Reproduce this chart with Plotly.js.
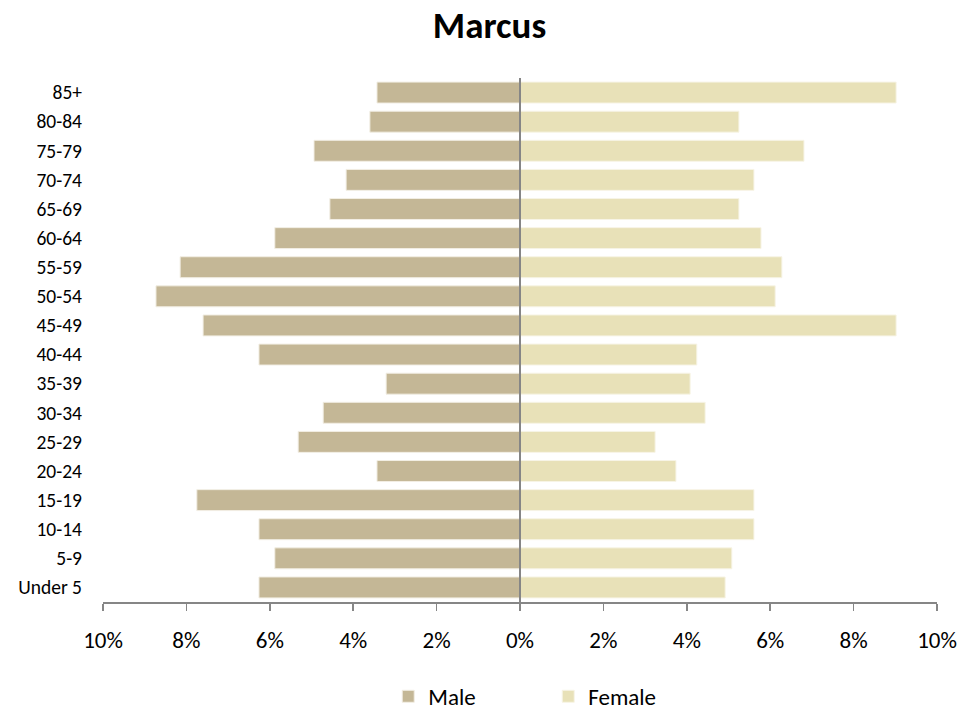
<!DOCTYPE html>
<html>
<head>
<meta charset="utf-8">
<script src="https://cdn.plot.ly/plotly-3.0.1.min.js"></script>
<style>html,body{margin:0;padding:0;background:#fff;}#chart{width:979px;height:713px;}</style>
</head>
<body>
<div id="chart"></div>
<script>
const ageGroups = ["Under 5","5-9","10-14","15-19","20-24","25-29","30-34","35-39","40-44","45-49","50-54","55-59","60-64","65-69","70-74","75-79","80-84","85+"];
const malePct = [6.26,5.88,6.26,7.75,3.43,5.32,4.72,3.21,6.26,7.6,8.73,8.15,5.88,4.56,4.17,4.94,3.6,3.43];
const femalePct = [4.92,5.08,5.61,5.61,3.74,3.24,4.44,4.08,4.24,9.02,6.12,6.28,5.78,5.25,5.61,6.81,5.25,9.02];
const tickValues = [-10,-8,-6,-4,-2,0,2,4,6,8,10];
const tickLabels = ["10%","8%","6%","4%","2%","0%","2%","4%","6%","8%","10%"];

const font = "Carlito, Lato, 'Liberation Sans', sans-serif";
const traces = [
  {type:'bar', orientation:'h', name:'Male', y:ageGroups, x:malePct.map(v=>-v),
   marker:{color:'#C4B796', line:{color:'#F2EEE4', width:1}}, hoverinfo:'skip'},
  {type:'bar', orientation:'h', name:'Female', y:ageGroups, x:femalePct,
   marker:{color:'#E8E1B8', line:{color:'#F7F4E6', width:1}}, hoverinfo:'skip'}
];
const layout = {
  width:979, height:713,
  paper_bgcolor:'#fff', plot_bgcolor:'#fff',
  margin:{l:102.5, r:42.3, t:77.5, b:111, pad:0, autoexpand:false},
  barmode:'relative', bargap:0.28,
  title:{text:'<b>Marcus</b>', font:{family:font, size:37, color:'#000'}, x:0.5, xanchor:'center', y:0.965, yanchor:'middle'},
  font:{family:font, color:'#000'},
  xaxis:{range:[-10,10], tickvals:tickValues, ticktext:tickLabels, showgrid:false,
    zeroline:false, automargin:false,
    showline:true, linecolor:'#868686', linewidth:2,
    ticks:'outside', ticklen:7, tickcolor:'#868686', tickwidth:1.5,
    ticklabelstandoff:9, tickfont:{size:23, family:font}, fixedrange:true},
  yaxis:{type:'category', categoryarray:ageGroups, showgrid:false, showline:false, zeroline:false,
    automargin:false,
    ticks:'', ticklabelstandoff:20, tickfont:{size:19.5, family:font}, fixedrange:true},
  shapes:[{type:'line', xref:'x', yref:'paper', x0:0, x1:0, y0:0, y1:1, layer:'above',
    line:{color:'#868686', width:2}}],
  showlegend:true,
  legend:{orientation:'h', x:0.342, xanchor:'left', y:-0.18, yanchor:'middle',
    font:{size:23, family:font}, itemwidth:30, tracegroupgap:0, entrywidth:115}
};
Plotly.newPlot('chart', traces, layout, {displayModeBar:false, staticPlot:true});
</script>
</body>
</html>
